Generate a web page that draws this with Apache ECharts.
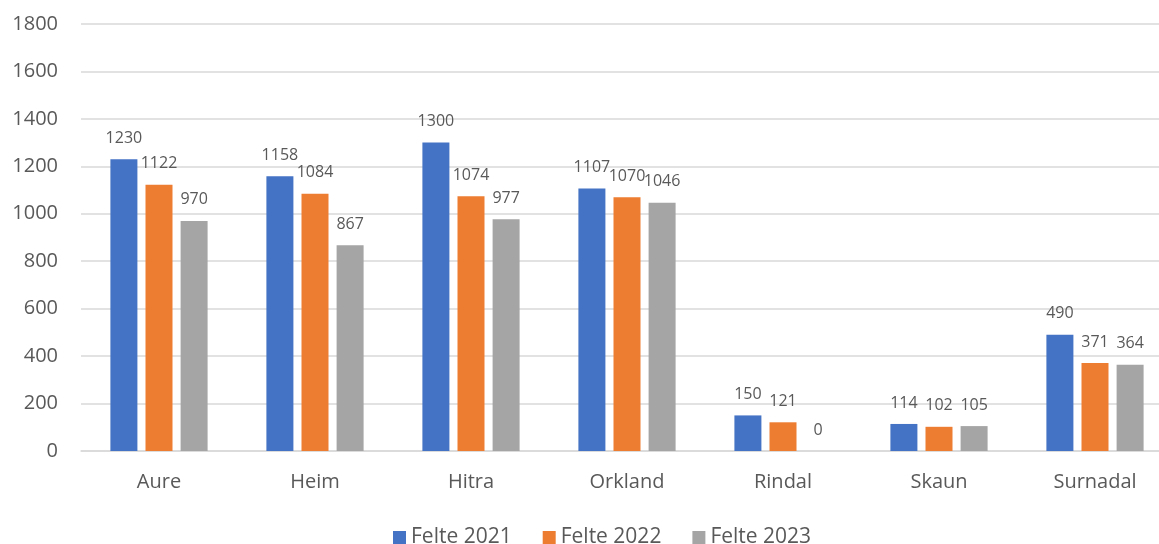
<!DOCTYPE html>
<html>
<head>
<meta charset="utf-8">
<script src="https://cdn.jsdelivr.net/npm/echarts@6/dist/echarts.min.js"></script>
<style>
  html, body { margin: 0; padding: 0; background: #fff; }
  #chart { width: 1159px; height: 544px; }
</style>
</head>
<body>
<div id="chart"></div>
<script>
// kommuner
const categories = ['Aure', 'Heim', 'Hitra', 'Orkland', 'Rindal', 'Skaun', 'Surnadal']
const seriesNames = ['Felte 2021', 'Felte 2022', 'Felte 2023']
const felte2021 = [1230, 1158, 1300, 1107, 150, 114, 490]
const felte2022 = [1122, 1084, 1074, 1070, 121, 102, 371]
const felte2023 = [970, 867, 977, 1046, 0, 105, 364]
const colors = ['#4472C4', '#ED7D31', '#A5A5A5']

const textColor = '#595959'
const fontFamily = '"Open Sans", "Noto Sans", sans-serif'

function makeSeries(name, data, color) {
  return {
    name: name,
    type: 'bar',
    data: data,
    barWidth: 27,
    barGap: '30%',
    itemStyle: { color: color },
    label: {
      show: true,
      position: 'top',
      distance: 13,
      color: textColor,
      fontSize: 16,
      fontFamily: fontFamily
    }
  }
}

const chart = echarts.init(document.getElementById('chart'))
chart.setOption({
  animation: false,
  color: colors,
  // plot area runs past the right edge, as in the cropped original
  grid: { left: 81, width: 1092, top: 24, bottom: 93, outerBoundsMode: 'none' },
  legend: {
    top: 522,
    left: 388,
    itemWidth: 13,
    itemHeight: 13,
    itemGap: 31,
    icon: 'rect',
    textStyle: { color: textColor, fontSize: 21, fontFamily: fontFamily },
    data: seriesNames
  },
  xAxis: {
    type: 'category',
    data: categories,
    axisTick: { show: false },
    axisLine: { lineStyle: { color: '#D9D9D9', width: 1.5 } },
    axisLabel: { color: textColor, fontSize: 20, fontFamily: fontFamily, margin: 21 }
  },
  yAxis: {
    type: 'value',
    min: 0,
    max: 1800,
    interval: 200,
    axisLine: { show: false },
    axisTick: { show: false },
    splitLine: { lineStyle: { color: '#D9D9D9', width: 1.5 } },
    axisLabel: {
      color: textColor,
      fontSize: 20,
      fontFamily: fontFamily,
      margin: 23,
      formatter: v => String(v)
    }
  },
  series: [
    makeSeries(seriesNames[0], felte2021, colors[0]),
    makeSeries(seriesNames[1], felte2022, colors[1]),
    makeSeries(seriesNames[2], felte2023, colors[2])
  ]
})
</script>
</body>
</html>
